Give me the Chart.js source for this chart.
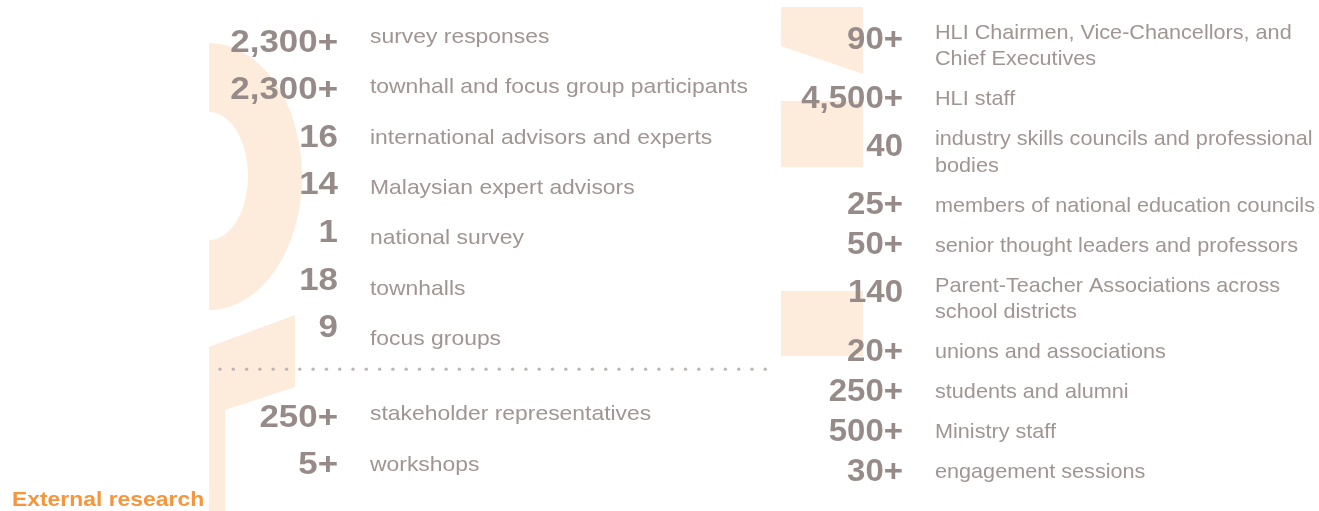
<!DOCTYPE html>
<html>
<head>
<meta charset="utf-8">
<title>Engagement in numbers</title>
<script src="https://cdn.jsdelivr.net/npm/chart.js@4.4.1/dist/chart.umd.min.js"></script>
<style>
  html, body { margin: 0; padding: 0; background: #fff; }
  #wrap { position: relative; width: 1319px; height: 511px; }
</style>
</head>
<body>
<div id="wrap"><canvas id="chart"></canvas></div>
<script>
// left block: values, "+" flags and what they count
const leftValues = [2300, 2300, 16, 14, 1, 18, 9, 250, 5];
const leftPlus = [true, true, false, false, false, false, false, true, true];
const leftLabels = [
    'survey responses',
    'townhall and focus group participants',
    'international advisors and experts',
    'Malaysian expert advisors',
    'national survey',
    'townhalls',
    'focus groups',
    'stakeholder representatives',
    'workshops'
];
const leftBreakBefore = 7; // dotted separator sits before this row

// right block
const rightValues = [90, 4500, 40, 25, 50, 140, 20, 250, 500, 30];
const rightPlus = [true, true, false, true, true, false, true, true, true, true];
const rightLabels = [
    ['HLI Chairmen, Vice-Chancellors, and', 'Chief Executives'],
    'HLI staff',
    ['industry skills councils and professional', 'bodies'],
    'members of national education councils',
    'senior thought leaders and professors',
    ['Parent-Teacher Associations across', 'school districts'],
    'unions and associations',
    'students and alumni',
    'Ministry staff',
    'engagement sessions'
];

const sectionTitle = 'External research';

// --- styling
const FONT = '"Liberation Sans", Arial, Helvetica, sans-serif';
const numColor = '#968b89';
const labelColor = '#a09593';
const peach = '#fdebdb';
const orange = '#f7953d';
const lineStep = 26.5;    // px between wrapped label lines
const gap = 16;           // px between number and label

const fmt = (v, plus) => v.toLocaleString('en-US') + (plus ? '+' : '');
const lines = l => Array.isArray(l) ? l : [l];

// row positions in row units (derived from data, not pixels)
const leftLabelPos = leftLabels.map((_, i) => i + (i >= leftBreakBefore ? 0.5 : 0));
const leftNumPos = leftLabels.map((_, i) => i + (i >= leftBreakBefore ? 0.88 : 0));
const rightPos = [];
rightLabels.reduce((acc, l) => { rightPos.push(acc); return acc + 1 + (lines(l).length - 1) * lineStep / 40; }, 0);
const rightNumPos = rightLabels.map((l, i) => rightPos[i] + (2.5 + (lines(l).length - 1) * 8) / 40);

// the artwork's type is a bit wide, more so on the left
function textLayer(kind, texts, stretch) {
    return { kind: kind, texts: texts, stretch: stretch, pointRadius: 0, showLine: false };
}

const datasets = [
    Object.assign(textLayer('label', leftLabels, 1.09), { yAxisID: 'yL', data: leftLabelPos.map(y => ({ x: 0, y: y })) }),
    Object.assign(textLayer('number', leftValues.map((v, i) => fmt(v, leftPlus[i])), 1.09), { yAxisID: 'yN', data: leftNumPos.map(y => ({ x: 0, y: y })) }),
    Object.assign(textLayer('label', rightLabels, 1.03), { yAxisID: 'yR', data: rightPos.map(y => ({ x: 1, y: y })) }),
    Object.assign(textLayer('number', rightValues.map((v, i) => fmt(v, rightPlus[i])), 1.03), { yAxisID: 'yR', data: rightNumPos.map(y => ({ x: 1, y: y })) })
];

// light peach letter fragments behind the text
const backdrop = {
    id: 'backdrop',
    beforeDatasetsDraw(chart) {
        const ctx = chart.ctx;
        ctx.save();
        ctx.fillStyle = peach;
        // bowl of the big letter on the left
        ctx.beginPath();
        ctx.moveTo(209, 43);
        ctx.ellipse(209, 176.5, 93, 133.5, 0, -Math.PI / 2, Math.PI / 2, false);
        ctx.closePath();
        ctx.moveTo(209, 240);
        ctx.ellipse(209, 176, 39, 64, 0, Math.PI / 2, -Math.PI / 2, true);
        ctx.closePath();
        ctx.fill('evenodd');
        // stem below it
        ctx.beginPath();
        ctx.moveTo(209, 347); ctx.lineTo(295, 315); ctx.lineTo(295, 387);
        ctx.lineTo(225, 410); ctx.lineTo(225, 511); ctx.lineTo(209, 511);
        ctx.closePath();
        ctx.fill();
        // pieces in the middle
        ctx.beginPath();
        ctx.moveTo(781, 7); ctx.lineTo(863, 7); ctx.lineTo(863, 74); ctx.lineTo(781, 46);
        ctx.closePath();
        ctx.fill();
        ctx.fillRect(781, 101, 82, 66);
        ctx.fillRect(781, 291, 82, 65);

        // dotted separator in the left block
        const y = chart.scales.yL.getPixelForValue(leftBreakBefore - 0.52);
        ctx.fillStyle = '#bdb5b4';
        for (let x = 220; x <= 768; x += 13.3) {
            ctx.beginPath();
            ctx.arc(x, y, 1.7, 0, Math.PI * 2);
            ctx.fill();
        }
        ctx.restore();
    }
};

// numbers and captions drawn at the points' positions
const textMarks = {
    id: 'textMarks',
    afterDatasetsDraw(chart) {
        const ctx = chart.ctx;
        chart.data.datasets.forEach((ds, di) => {
            const meta = chart.getDatasetMeta(di);
            const s = ds.stretch;
            meta.data.forEach((pt, i) => {
                ctx.save();
                ctx.translate(pt.x, pt.y);
                ctx.scale(s, 1);
                ctx.textBaseline = 'alphabetic';
                if (ds.kind === 'number') {
                    ctx.font = 'bold 32px ' + FONT;
                    ctx.fillStyle = numColor;
                    ctx.textAlign = 'right';
                    ctx.fillText(ds.texts[i], -gap / s, 0);
                } else {
                    ctx.font = '21px ' + FONT;
                    ctx.fillStyle = labelColor;
                    ctx.textAlign = 'left';
                    lines(ds.texts[i]).forEach((t, k) => ctx.fillText(t, gap / s, k * lineStep));
                }
                ctx.restore();
            });
        });
        // section heading, bottom left
        ctx.save();
        ctx.translate(12, 506);
        ctx.scale(1.09, 1);
        ctx.font = 'bold 21px ' + FONT;
        ctx.fillStyle = orange;
        ctx.textAlign = 'left';
        ctx.fillText(sectionTitle, 0, 0);
        ctx.restore();
    }
};

new Chart(document.getElementById('chart'), {
    type: 'scatter',
    data: { datasets: datasets },
    options: {
        responsive: true,
        maintainAspectRatio: false,
        animation: false,
        events: [],
        layout: { padding: 0 },
        plugins: { legend: { display: false }, tooltip: { enabled: false }, title: { display: false } },
        scales: {
            x: { type: 'linear', display: false, min: -354 / 565, max: (1319 - 354) / 565 },
            yL: { type: 'linear', display: false, reverse: true, min: -43 / 50.33, max: -43 / 50.33 + 511 / 50.33 },
            yN: { type: 'linear', display: false, reverse: true, min: -51.5 / 47.6, max: -51.5 / 47.6 + 511 / 47.6 },
            yR: { type: 'linear', display: false, reverse: true, min: -38.5 / 40, max: -38.5 / 40 + 511 / 40 }
        }
    },
    plugins: [backdrop, textMarks]
});
</script>
</body>
</html>
